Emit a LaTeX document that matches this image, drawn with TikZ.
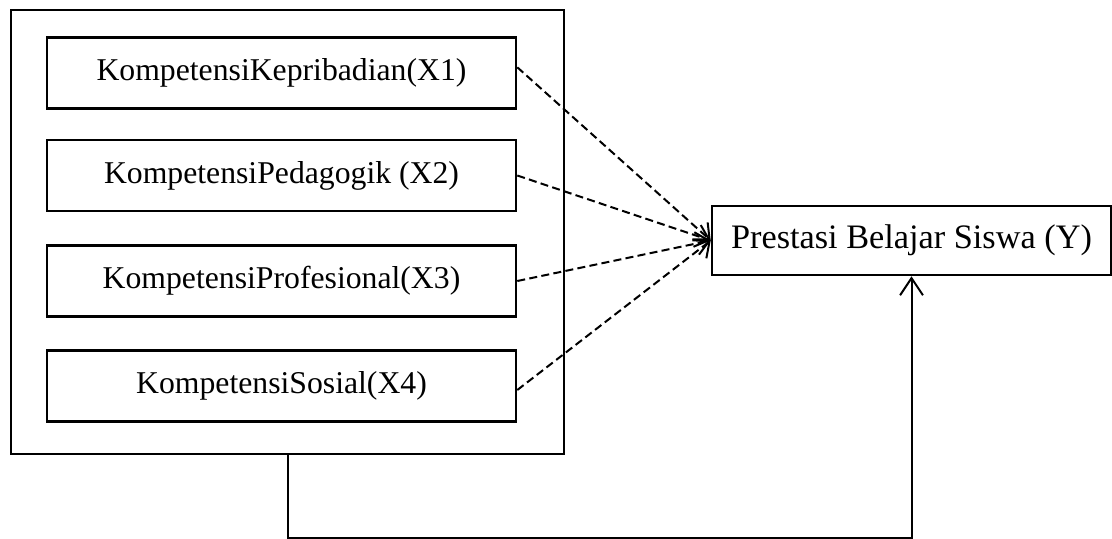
\documentclass[tikz,border=0pt]{standalone}
\usepackage{fontspec}
\setmainfont{Liberation Serif}
\usetikzlibrary{arrows.meta,fit}

\tikzset{
  varbox/.style={draw, line width=0.9pt, minimum width=164.15pt, minimum height=24.9pt, inner sep=0pt, font=\fontsize{11.1}{13}\selectfont},
  ybox/.style={draw, line width=0.9pt, minimum width=139.65pt, minimum height=24.15pt, inner sep=0pt, font=\fontsize{12}{14}\selectfont},
  grpbox/.style={draw, line width=0.9pt, inner sep=0pt},
  dasharrow/.style={line width=0.7pt, dash pattern=on 2.8pt off 1.5pt, -{Straight Barb[length=4.5pt, width=8pt]}},
  linkarrow/.style={line width=0.7pt, -{Straight Barb[length=6pt, width=8pt]}}
}

\begin{document}
\begin{tikzpicture}[x=0.35pt, y=-0.35pt]
	%%%%% START %%%%%
	\useasboundingbox (0,0) rectangle (1112,538);
	
	\node[grpbox, fit={(11,10) (564,454)}] (grp) {};
	
	\node[varbox] (k1) at (281.5, 73) {KompetensiKepribadian(X1)};
	\node[varbox] (k2) at (281.5, 175.5) {KompetensiPedagogik (X2)};
	\node[varbox] (k3) at (281.5, 281) {KompetensiProfesional(X3)};
	\node[varbox] (k4) at (281.5, 386) {KompetensiSosial(X4)};
	
	\node[ybox] (y) at (911.5, 240.5) {Prestasi Belajar Siswa (Y)};
	
	\draw[dasharrow] ([yshift=2pt]k1.east) -- (y.west);
	\draw[dasharrow] (k2.east) -- (y.west);
	\draw[dasharrow] (k3.east) -- (y.west);
	\draw[dasharrow] ([yshift=-1.4pt]k4.east) -- (y.west);
	
	\draw[linkarrow] (grp.south) -- ++(0,83) -| (y.south);
	%%%%% END %%%%%
\end{tikzpicture}
\end{document}
